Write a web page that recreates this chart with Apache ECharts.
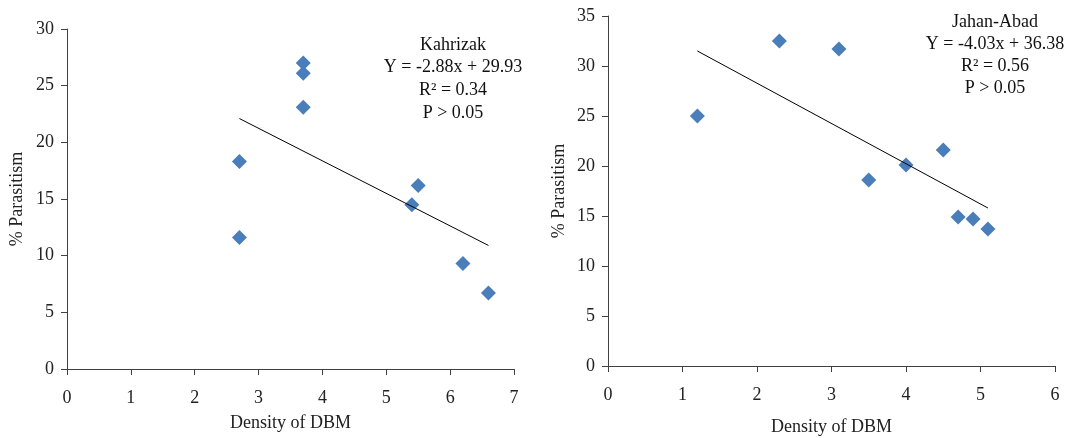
<!DOCTYPE html>
<html><head><meta charset="utf-8">
<script src="https://cdn.jsdelivr.net/npm/echarts@6/dist/echarts.min.js"></script>
<style>html,body{margin:0;padding:0;background:#fff}#c{width:1078px;height:438px}</style>
</head><body><div id="c"></div>
<script>
// Left panel: Kahrizak
const kahrizakPoints = [[2.7,18.3],[2.7,11.6],[3.7,27.0],[3.7,26.1],[3.7,23.1],[5.4,14.5],[5.5,16.2],[6.2,9.3],[6.6,6.7]];
const kahrizakTrend = [[2.7,22.1],[6.6,10.9]];
const kahrizakText = ['Kahrizak','Y = -2.88x + 29.93','R\u00B2 = 0.34','P > 0.05'];
// Right panel: Jahan-Abad
const jahanPoints = [[1.2,25.0],[2.3,32.5],[3.1,31.7],[3.5,18.6],[4.0,20.1],[4.5,21.6],[4.7,14.9],[4.9,14.7],[5.1,13.7]];
const jahanTrend = [[1.2,31.5],[5.1,15.8]];
const jahanText = ['Jahan-Abad','Y = -4.03x + 36.38','R\u00B2 = 0.56','P > 0.05'];
const xTitle = 'Density of DBM';
const yTitle = '% Parasitism';

const FONT = 'Liberation Serif';
const axisLine = {show:true, lineStyle:{color:'#404040', width:1}};
const axisTick = {show:true, length:6, lineStyle:{color:'#404040'}};
const label = {color:'#222', fontFamily:FONT, fontSize:18};
function xAx(gi, max, gap, m){return {type:'value', gridIndex:gi, min:0, max:max, interval:1, axisLine, axisTick, splitLine:{show:false}, axisLabel:Object.assign({margin:m},label), name:xTitle, nameLocation:'middle', nameGap:gap, nameTextStyle:{color:'#222', fontFamily:FONT, fontSize:18}};}
function yAx(gi, max, gap){return {type:'value', gridIndex:gi, min:0, max:max, interval:5, axisLine, axisTick, splitLine:{show:false}, axisLabel:Object.assign({margin:13},label), name:yTitle, nameLocation:'middle', nameGap:gap, nameTextStyle:{color:'#222', fontFamily:FONT, fontSize:18}};}

const chart = echarts.init(document.getElementById('c'));
chart.setOption({
  animation:false,
  grid:[{left:67, top:29, width:447, height:340, outerBoundsMode:'none', containLabel:false},{left:608, top:16, width:447, height:350, outerBoundsMode:'none', containLabel:false}],
  xAxis:[xAx(0,7,45,20), xAx(1,6,52,20)],
  yAxis:[yAx(0,30,41), yAx(1,35,40)],
  series:[
    {type:'scatter', xAxisIndex:0, yAxisIndex:0, data:kahrizakPoints, symbol:'diamond', symbolSize:15, itemStyle:{color:'#4A7EBB', opacity:1}},
    {type:'line', xAxisIndex:0, yAxisIndex:0, data:kahrizakTrend, symbol:'none', lineStyle:{color:'#000', width:1}},
    {type:'scatter', xAxisIndex:1, yAxisIndex:1, data:jahanPoints, symbol:'diamond', symbolSize:15, itemStyle:{color:'#4A7EBB', opacity:1}},
    {type:'line', xAxisIndex:1, yAxisIndex:1, data:jahanTrend, symbol:'none', lineStyle:{color:'#000', width:1}}
  ],
  graphic:[].concat(
    kahrizakText.map((t,i)=>({type:'text', x:453, y:45+i*22.6, style:{text:t, font:'18px "'+FONT+'"', fill:'#111', align:'center', verticalAlign:'middle'}})),
    jahanText.map((t,i)=>({type:'text', x:995, y:22+i*22, style:{text:t, font:'18px "'+FONT+'"', fill:'#111', align:'center', verticalAlign:'middle'}}))
  )
});
</script></body></html>
